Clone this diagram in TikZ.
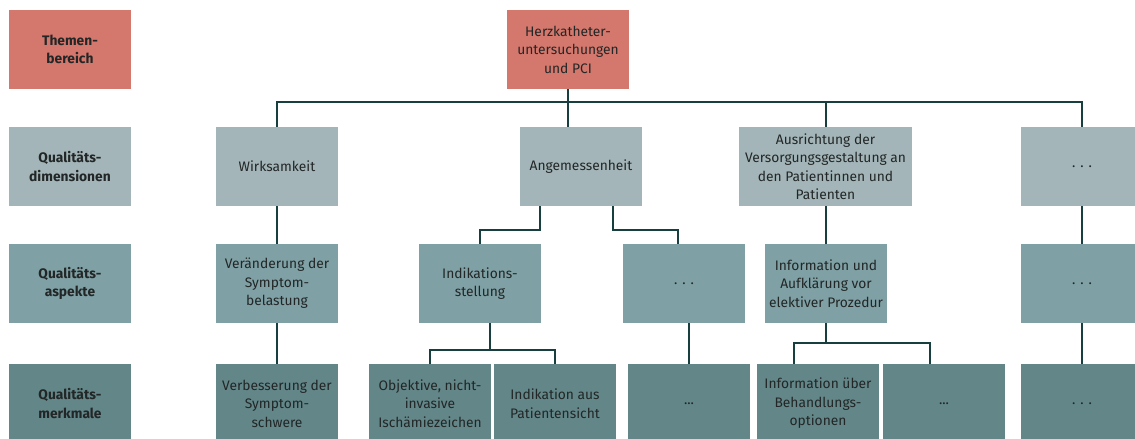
\documentclass[tikz,border=0pt]{standalone}
\usepackage{fontspec}
\setmainfont{Fira Sans}
\definecolor{cRed}{HTML}{D4776C}
\definecolor{cDim}{HTML}{A3B5B8}
\definecolor{cAsp}{HTML}{7FA0A4}
\definecolor{cMerk}{HTML}{638688}
\definecolor{cLine}{HTML}{173F40}
\definecolor{cText}{HTML}{222626}
\begin{document}
\begin{tikzpicture}[x=1pt,y=-1pt,
  box/.style={rectangle, inner sep=0pt, minimum width=122pt, minimum height=79pt, align=center,
    text=cText, font=\fontsize{13.8}{18.5}\selectfont},
  lab/.style={box, font=\fontsize{13.8}{18.5}\selectfont\bfseries},
  red/.style={fill=cRed}, dim/.style={fill=cDim}, asp/.style={fill=cAsp}, merk/.style={fill=cMerk},
  conn/.style={draw=cLine, line width=2pt}]
\useasboundingbox (0,0) rectangle (1135,439);
\clip (0,0) rectangle (1135,439);
% row 1
\node[lab,red] (lab1) at (70,49.5) {Themen-\\bereich};
\node[box,red] (herz) at (568,49.5) {Herzkatheter-\\untersuchungen\\und PCI};
% row 2
\node[lab,dim] (lab2) at (70,166.5) {Qualitäts-\\dimensionen};
\node[box,dim] (wirk) at (277,166.5) {Wirksamkeit};
\node[box,dim] (ange) at (581,166.5) {Angemessenheit};
\node[box,dim,minimum width=173pt] (ausr) at (825.5,166.5) {Ausrichtung der\\Versorgungsgestaltung an\\den Patientinnen und\\Patienten};
\node[box,dim] (dots2) at (1082,166.5) {. . .};
% row 3
\node[lab,asp] (lab3) at (70,283.5) {Qualitäts-\\aspekte};
\node[box,asp] (ver) at (277,283.5) {Veränderung der\\Symptom-\\belastung};
\node[box,asp] (indi) at (480,283.5) {Indikations-\\stellung};
\node[box,asp] (dots3a) at (684,283.5) {. . .};
\node[box,asp] (info) at (826,283.5) {Information und\\Aufklärung vor\\elektiver Prozedur};
\node[box,asp] (dots3b) at (1082,283.5) {. . .};
% row 4
\node[lab,merk] (lab4) at (70,403.5) {Qualitäts-\\merkmale};
\node[box,merk] (verb) at (277,403.5) {Verbesserung der\\Symptom-\\schwere};
\node[box,merk] (obj) at (430,403.5) {Objektive, nicht-\\invasive\\Ischämiezeichen};
\node[box,merk] (indaus) at (555,403.5) {Indikation aus\\Patientensicht};
\node[box,merk] (dots4a) at (689,403.5) {...};
\node[box,merk] (infoub) at (818,403.5) {Information über\\Behandlungs-\\optionen};
\node[box,merk] (dots4b) at (944,403.5) {...};
\node[box,merk] (dots4c) at (1082,403.5) {. . .};
% connectors
\coordinate (bus) at (0,102);
\coordinate (ib) at (490,350);
\coordinate (jb) at (826,343);
\draw[conn] (wirk.north) -- (wirk.north |- bus) -- (dots2.north |- bus) -- (dots2.north);
\draw[conn] (herz.south) -- (herz.south |- ange.north);
\draw[conn] (ausr.north) -- (ausr.north |- bus);
\draw[conn] (wirk.south) -- (ver.north);
\draw[conn] ([xshift=20pt]ange.south west) |- ([yshift=14pt]indi.north) -- (indi.north);
\draw[conn] ([xshift=-29pt]ange.south east) |- ([xshift=-6pt,yshift=14pt]dots3a.north) -- ([xshift=-6pt]dots3a.north);
\draw[conn] (ausr.south) -- (ausr.south |- info.north);
\draw[conn] (dots2.south) -- (dots3b.north);
\draw[conn] (ver.south) -- (verb.north);
\draw[conn] ([xshift=10pt]indi.south) -- (ib);
\draw[conn] (obj.north) |- (ib) -| (indaus.north);
\draw[conn] (dots4a.north |- dots3a.south) -- (dots4a.north);
\draw[conn] (info.south) -- (jb);
\draw[conn] ([xshift=-24pt]infoub.north) |- (jb) -| ([xshift=-14pt]dots4b.north);
\draw[conn] (dots3b.south) -- (dots4c.north);
\end{tikzpicture}
\end{document}
